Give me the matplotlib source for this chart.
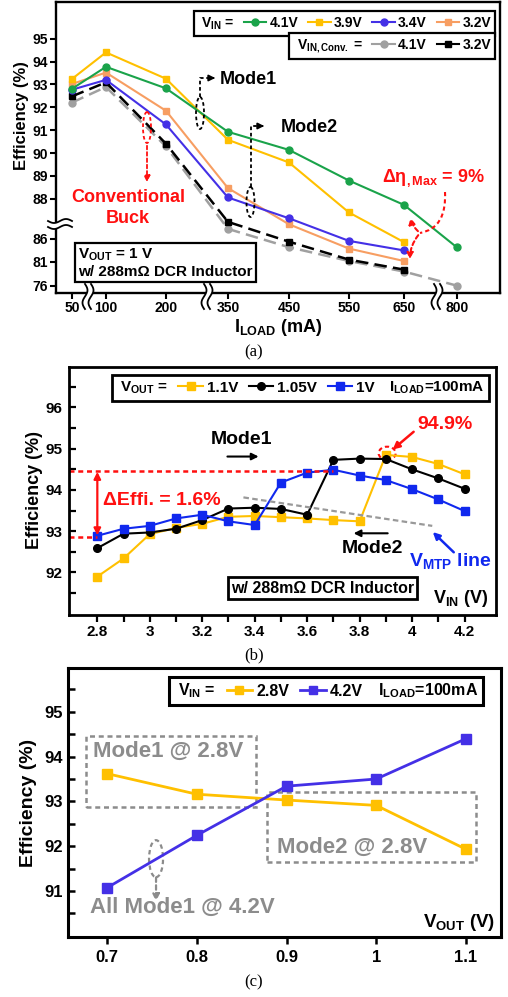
import numpy as np
import matplotlib.pyplot as plt
from matplotlib.lines import Line2D
from matplotlib.patches import Ellipse, Rectangle, Polygon, FancyArrowPatch, PathPatch
from matplotlib.path import Path
from matplotlib.transforms import Affine2D
from matplotlib.ticker import FuncFormatter

plt.rcParams['font.family'] = ['Liberation Sans', 'DejaVu Sans']
plt.rcParams['font.weight'] = 'bold'
plt.rcParams['axes.labelweight'] = 'bold'
plt.rcParams['mathtext.fontset'] = 'custom'
plt.rcParams['mathtext.rm'] = 'Liberation Sans:bold'
plt.rcParams['mathtext.it'] = 'Liberation Sans:bold'
plt.rcParams['mathtext.bf'] = 'Liberation Sans:bold'

# ---- (a) efficiency vs load current, VOUT = 1 V
i_load = [50, 100, 200, 350, 450, 550, 650, 800]
eff_41 = [92.81, 93.77, 92.83, 90.93, 90.14, 88.8, 87.7, 84.15]
eff_39 = [93.24, 94.4, 93.25, 90.58, 89.59, 87.32, 85.3]
eff_34 = [92.77, 93.2, 91.25, 88.06, 87.03, 85.57, 83.5]
eff_32 = [93.02, 93.52, 91.85, 88.47, 86.73, 83.9, 81.2]
conv_41 = [92.21, 92.89, 90.29, 86.5, 84.2, 81.2, 79.0, 76.06]
conv_32 = [92.48, 93.09, 90.41, 86.85, 85.4, 81.5, 79.4]
yticks_a = [76, 81, 86, 88, 89, 90, 91, 92, 93, 94, 95]

# ---- (b) efficiency vs VIN, ILOAD = 100 mA
vin = [2.8, 2.9, 3.0, 3.1, 3.2, 3.3, 3.4, 3.5, 3.6, 3.7, 3.8, 3.9, 4.0, 4.1, 4.2]
eff_v110 = [91.9, 92.34, 92.93, 93.08, 93.18, 93.35, 93.37, 93.34, 93.31, 93.27, 93.24, 94.85, 94.8, 94.63, 94.38]
eff_v105 = [92.59, 92.94, 92.97, 93.06, 93.27, 93.55, 93.57, 93.54, 93.4, 94.73, 94.76, 94.75, 94.5, 94.28, 94.03]
eff_v100 = [92.89, 93.06, 93.13, 93.31, 93.4, 93.24, 93.15, 94.18, 94.42, 94.49, 94.35, 94.24, 94.02, 93.77, 93.49]

# ---- (c) efficiency vs VOUT, ILOAD = 100 mA
vout = [0.7, 0.8, 0.9, 1.0, 1.1]
eff_in28 = [93.62, 93.16, 93.03, 92.91, 91.93]
eff_in42 = [91.07, 92.24, 93.34, 93.5, 94.4]

GREEN = '#1aa34a'
YELLOW = '#ffc000'
PURPLE = '#4430e6'
ORANGE = '#f79e62'
GRAY = '#a0a0a0'
BLUE = '#1028ee'
RED = '#ff1010'
TXTGRAY = '#8c8c8c'

W, H = 508, 997
fig = plt.figure(figsize=(W / 100, H / 100), dpi=100)
# pixel coordinates measured from the top-left corner, used for annotations
T = Affine2D().scale(1 / W, -1 / H).translate(0, 1) + fig.transFigure


def boxed_legend(ax, handles, labels, anchor, fs, lw, blank=()):
    leg = ax.legend(handles, labels, loc='upper right', bbox_to_anchor=anchor,
                    ncol=len(labels), prop={'weight': 'bold', 'size': fs},
                    frameon=True, fancybox=False, framealpha=1, edgecolor='black',
                    handlelength=1.6, handletextpad=0.25, columnspacing=0.7,
                    borderpad=0.3, borderaxespad=0)
    leg.get_frame().set_linewidth(lw)
    for j, col in enumerate(leg._legend_handle_box.get_children()):
        if j in blank:
            for row in col.get_children():
                row.get_children()[0].width = 0
    return leg


def spines(ax, lw):
    for s in ax.spines.values():
        s.set_linewidth(lw)


fmt = FuncFormatter(lambda v, p: f'{round(v, 2):g}')
blank_h = Line2D([], [], linestyle='none')

# ================= (a) =================
ax1 = fig.add_axes([56 / W, 1 - 293 / H, 444 / W, 291 / H])
xa_knots = [0, 50, 100, 200, 350, 450, 550, 650, 800, 1000]
xa_pos = [38, 72, 106, 166, 228, 289, 349, 404, 457, 527]
ya_knots = [60, 76, 81, 86, 88, 95, 100]
ya_pos = [-361, -286, -262, -239, -199, -39, 75.5]
ax1.set_xscale('function', functions=(lambda v: np.interp(v, xa_knots, xa_pos),
                                      lambda p: np.interp(p, xa_pos, xa_knots)))
ax1.set_yscale('function', functions=(lambda v: np.interp(v, ya_knots, ya_pos),
                                      lambda p: np.interp(p, ya_pos, ya_knots)))

ax1.plot(i_load, conv_41, color=GRAY, ls=(0, (5, 2.5)), lw=1.8, marker='o', ms=5)
ax1.plot(i_load[:7], conv_32, color='black', ls=(0, (5, 2.5)), lw=1.8, marker='s', ms=5)
ax1.plot(i_load[:7], eff_32, color=ORANGE, lw=1.5, marker='s', ms=5)
ax1.plot(i_load[:7], eff_34, color=PURPLE, lw=1.5, marker='o', ms=5)
ax1.plot(i_load[:7], eff_39, color=YELLOW, lw=1.5, marker='s', ms=5)
ax1.plot(i_load, eff_41, color=GREEN, lw=1.5, marker='o', ms=5)

ax1.set_xlim(26.5, 923)
ax1.set_ylim(74.5, 96.6)
ax1.set_xticks(i_load)
ax1.set_yticks(yticks_a)
ax1.xaxis.set_major_formatter(fmt)
ax1.yaxis.set_major_formatter(fmt)
ax1.minorticks_off()
ax1.tick_params(direction='out', length=4, width=1.5, labelsize=10, pad=2)
spines(ax1, 1.7)
ax1.set_ylabel('Efficiency (%)', fontsize=12)
ax1.yaxis.label.set_va('center')
ax1.yaxis.set_label_coords(-0.0766, 0.61)
ax1.set_xlabel('I$_{\\rm LOAD}$ (mA)', fontsize=13)
ax1.xaxis.label.set_va('center')
ax1.xaxis.set_label_coords(0.5, -0.117)

h_a = [blank_h,
       Line2D([], [], color=GREEN, marker='o', ms=5, lw=1.5),
       Line2D([], [], color=YELLOW, marker='s', ms=5, lw=1.5),
       Line2D([], [], color=PURPLE, marker='o', ms=5, lw=1.5),
       Line2D([], [], color=ORANGE, marker='s', ms=5, lw=1.5)]
leg1 = boxed_legend(ax1, h_a, ['V$_{\\rm IN}$ =', '4.1V', '3.9V', '3.4V', '3.2V'],
                    (0.989, 0.969), 10, 1.6, blank=(0,))
ax1.add_artist(leg1)
h_c = [blank_h,
       Line2D([], [], color=GRAY, marker='o', ms=5, lw=1.5),
       Line2D([], [], color='black', marker='s', ms=5, lw=1.5)]
boxed_legend(ax1, h_c, ['V$_{\\rm IN,Conv.}$ =', '4.1V', '3.2V'],
             (0.989, 0.893), 10, 1.6, blank=(0,))

# axis breaks
t = np.linspace(0, 1, 40)
for cx in (88, 207, 437):
    ys = 284 + 25 * t
    xl = cx - 3 + 2.5 * np.sin(2 * np.pi * t)
    xr = cx + 3 + 2.5 * np.sin(2 * np.pi * t)
    fig.add_artist(Polygon(np.column_stack([np.r_[xl, xr[::-1]], np.r_[ys, ys[::-1]]]),
                           closed=True, fc='white', ec='none', transform=T))
    fig.add_artist(Line2D(xl, ys, color='black', lw=1.3, transform=T))
    fig.add_artist(Line2D(xr, ys, color='black', lw=1.3, transform=T))
xs = 48 + 24 * t
yt = 221 + 2 * np.sin(2 * np.pi * t)
yb = 227 + 2 * np.sin(2 * np.pi * t)
fig.add_artist(Polygon(np.column_stack([np.r_[xs, xs[::-1]], np.r_[yt, yb[::-1]]]),
                       closed=True, fc='white', ec='none', transform=T))
fig.add_artist(Line2D(xs, yt, color='black', lw=1.3, transform=T))
fig.add_artist(Line2D(xs, yb, color='black', lw=1.3, transform=T))

# mode annotations
fig.add_artist(Ellipse((200, 113), 8, 32, transform=T, fill=False, ec='black', ls=(0, (2, 1.5)), lw=1.3))
fig.add_artist(Line2D([200, 200, 211], [97, 78, 78], color='black', ls=(0, (2, 1.5)), lw=1.3, transform=T))
fig.add_artist(FancyArrowPatch((209, 78), (218, 78), transform=T, arrowstyle='-|>', mutation_scale=9, color='black', lw=1.3))
fig.text(220, 80, 'Mode1', transform=T, fontsize=13, va='center', ha='left')

fig.add_artist(Ellipse((250.5, 202), 8, 30, transform=T, fill=False, ec='black', ls=(0, (2, 1.5)), lw=1.3))
fig.add_artist(Line2D([251, 251, 260], [187, 126, 126], color='black', ls=(0, (2, 1.5)), lw=1.3, transform=T))
fig.add_artist(FancyArrowPatch((258, 126), (267, 126), transform=T, arrowstyle='-|>', mutation_scale=9, color='black', lw=1.3))
fig.text(281, 128, 'Mode2', transform=T, fontsize=13, va='center', ha='left')

fig.add_artist(Ellipse((147, 127.5), 8, 31, transform=T, fill=False, ec=RED, ls=(0, (2, 1.5)), lw=1.3))
fig.add_artist(FancyArrowPatch((147, 143), (147, 185), transform=T, arrowstyle='-|>', mutation_scale=9,
                               color=RED, lw=1.3, ls=(0, (2, 1.5))))
fig.text(128, 208, 'Conventional\nBuck', transform=T, fontsize=13, color=RED, va='center', ha='center',
         linespacing=1.35)

fig.text(434, 178, 'Δη$_{\\rm ,Max}$ = 9%', transform=T, fontsize=13, color=RED, va='center', ha='center')
curve = Path([(445, 192), (447, 228), (420, 233)], [Path.MOVETO, Path.CURVE3, Path.CURVE3])
fig.add_artist(PathPatch(curve, transform=T, fill=False, ec=RED, lw=1.5, ls=(0, (2, 1.5))))
fig.add_artist(FancyArrowPatch((420, 233), (410, 215), transform=T, arrowstyle='-|>', mutation_scale=9,
                               color=RED, lw=1.5, ls=(0, (2, 1.5)), connectionstyle='arc3,rad=-0.2'))
fig.add_artist(FancyArrowPatch((420, 233), (410, 262), transform=T, arrowstyle='-|>', mutation_scale=9,
                               color=RED, lw=1.5, ls=(0, (2, 1.5)), connectionstyle='arc3,rad=0.2'))

fig.text(78, 263, 'V$_{\\rm OUT}$ = 1 V\nw/ 288mΩ DCR Inductor', transform=T, fontsize=11, va='center', ha='left',
         linespacing=1.15, bbox=dict(boxstyle='square,pad=0.2', fc='white', ec='black', lw=1.6))

fig.text(254, 352, '(a)', transform=T, fontsize=12, family='Liberation Serif', weight='normal',
         ha='center', va='center')

# ================= (b) =================
ax2 = fig.add_axes([69 / W, 1 - 615 / H, 427 / W, 248 / H])
ax2.plot(vin, eff_v110, color=YELLOW, lw=1.5, marker='s', ms=6)
ax2.plot(vin, eff_v105, color='black', lw=1.5, marker='o', ms=5.5)
ax2.plot(vin, eff_v100, color=BLUE, lw=1.5, marker='s', ms=6)
ax2.set_xlim(2.692, 4.32)
ax2.set_ylim(90.97, 96.98)
ax2.set_xticks([2.8, 3.0, 3.2, 3.4, 3.6, 3.8, 4.0, 4.2])
ax2.set_xticks([2.9, 3.1, 3.3, 3.5, 3.7, 3.9, 4.1], minor=True)
ax2.set_yticks([92, 93, 94, 95, 96])
ax2.set_yticks([91.5, 92.5, 93.5, 94.5, 95.5, 96.5], minor=True)
ax2.xaxis.set_major_formatter(fmt)
ax2.yaxis.set_major_formatter(fmt)
ax2.tick_params(axis='x', which='both', direction='out', length=5, width=1.6, labelsize=11, pad=2)
ax2.tick_params(axis='y', which='both', direction='in', length=5, width=1.6, labelsize=11, pad=5)
spines(ax2, 2)
ax2.set_ylabel('Efficiency (%)', fontsize=13)
ax2.yaxis.label.set_va('center')
ax2.yaxis.set_label_coords(-0.08, 0.504)

h_b = [blank_h,
       Line2D([], [], color=YELLOW, marker='s', ms=6, lw=1.5),
       Line2D([], [], color='black', marker='o', ms=5.5, lw=1.5),
       Line2D([], [], color=BLUE, marker='s', ms=6, lw=1.5),
       blank_h]
boxed_legend(ax2, h_b, ['V$_{\\rm OUT}$ =', '1.1V', '1.05V', '1V', 'I$_{\\rm LOAD}$=100mA'],
             (0.984, 0.968), 11, 2, blank=(0, 4))

ax2.hlines(94.47, 2.692, 3.7, color=RED, lw=1.8, ls=(0, (2, 1.5)))
ax2.hlines(92.87, 2.692, 2.8, color=RED, lw=1.8, ls=(0, (2, 1.5)))
ax2.annotate('', xy=(2.8, 92.9), xytext=(2.8, 94.44),
             arrowprops=dict(arrowstyle='<|-|>', color=RED, lw=1.6, mutation_scale=10, shrinkA=0, shrinkB=0))
ax2.text(2.82, 93.75, 'ΔEffi. = 1.6%', color=RED, fontsize=14, va='center', ha='left')
ax2.text(3.35, 95.22, 'Mode1', fontsize=14, va='center', ha='center')
ax2.annotate('', xy=(3.415, 94.81), xytext=(3.296, 94.81),
             arrowprops=dict(arrowstyle='-|>', color='black', lw=1.5, mutation_scale=10, shrinkA=0, shrinkB=0))
ax2.text(3.85, 92.59, 'Mode2', fontsize=14, va='center', ha='center')
ax2.annotate('', xy=(3.777, 92.95), xytext=(3.907, 92.95),
             arrowprops=dict(arrowstyle='-|>', color='black', lw=1.5, mutation_scale=10, shrinkA=0, shrinkB=0))
ax2.plot([3.357, 4.077], [93.82, 93.13], color='#999999', lw=1.6, ls=(0, (2.5, 1.5)))
ax2.text(3.987, 92.29, 'V$_{\\rm MTP}$ line', color=BLUE, fontsize=14, va='center', ha='left')
ax2.annotate('', xy=(4.079, 92.98), xytext=(4.159, 92.49),
             arrowprops=dict(arrowstyle='-|>', color=BLUE, lw=1.8, mutation_scale=10, shrinkA=0, shrinkB=0))
ax2.add_patch(Ellipse((3.905, 94.89), 0.065, 0.317, fill=False, ec=RED, lw=1.5, ls=(0, (2, 1.5))))
ax2.text(4.124, 95.59, '94.9%', color=RED, fontsize=14, va='center', ha='center')
ax2.annotate('', xy=(3.926, 94.98), xytext=(4.006, 95.41),
             arrowprops=dict(arrowstyle='-|>', color=RED, lw=1.8, mutation_scale=10, shrinkA=0, shrinkB=0))
ax2.text(3.659, 91.62, 'w/ 288mΩ DCR Inductor', fontsize=11.5, va='center', ha='center',
         bbox=dict(boxstyle='square,pad=0.2', fc='white', ec='black', lw=2))
ax2.text(4.292, 91.37, 'V$_{\\rm IN}$ (V)', fontsize=13, va='center', ha='right')

fig.text(254, 655, '(b)', transform=T, fontsize=12, family='Liberation Serif', weight='normal',
         ha='center', va='center')

# ================= (c) =================
ax3 = fig.add_axes([68 / W, 1 - 937 / H, 433 / W, 269 / H])
ax3.plot(vout, eff_in28, color=YELLOW, lw=2, marker='s', ms=7)
ax3.plot(vout, eff_in42, color=PURPLE, lw=2, marker='s', ms=7)
ax3.set_xlim(0.6565, 1.139)
ax3.set_ylim(89.97, 95.98)
ax3.set_xticks(vout)
ax3.set_yticks([91, 92, 93, 94, 95])
ax3.set_yticks([90.5, 91.5, 92.5, 93.5, 94.5, 95.5], minor=True)
ax3.xaxis.set_major_formatter(fmt)
ax3.yaxis.set_major_formatter(fmt)
ax3.tick_params(axis='x', which='both', direction='out', length=5, width=1.8, labelsize=12, pad=4)
ax3.tick_params(axis='y', which='both', direction='in', length=5, width=1.8, labelsize=12, pad=4)
spines(ax3, 2.2)
ax3.set_ylabel('Efficiency (%)', fontsize=14)
ax3.yaxis.label.set_va('center')
ax3.yaxis.set_label_coords(-0.092, 0.498)

h_v = [blank_h,
       Line2D([], [], color=YELLOW, marker='s', ms=6, lw=2),
       Line2D([], [], color=PURPLE, marker='s', ms=6, lw=2),
       blank_h]
boxed_legend(ax3, h_v, ['V$_{\\rm IN}$ =', '2.8V', '4.2V', 'I$_{\\rm LOAD}$=100mA'],
             (0.958, 0.967), 11.5, 2.2, blank=(0, 3))

ax3.add_patch(Rectangle((0.6766, 92.87), 0.866 - 0.6766, 94.45 - 92.87, fill=False,
                        ec=TXTGRAY, lw=1.8, ls=(0, (2, 1.5))))
ax3.text(0.684, 94.12, 'Mode1 @ 2.8V', color=TXTGRAY, fontsize=16, va='center', ha='left')
ax3.add_patch(Rectangle((0.878, 91.64), 1.111 - 0.878, 93.22 - 91.64, fill=False,
                        ec=TXTGRAY, lw=1.8, ls=(0, (2, 1.5))))
ax3.text(0.8895, 91.97, 'Mode2 @ 2.8V', color=TXTGRAY, fontsize=16, va='center', ha='left')
ax3.add_patch(Ellipse((0.7546, 91.72), 0.0156, 0.826, fill=False, ec=TXTGRAY, lw=1.6, ls=(0, (2, 1.5))))
ax3.annotate('', xy=(0.7546, 90.77), xytext=(0.7546, 91.30),
             arrowprops=dict(arrowstyle='-|>', color=TXTGRAY, lw=1.6, ls=(0, (2, 1.5)),
                             mutation_scale=10, shrinkA=0, shrinkB=0))
ax3.text(0.681, 90.63, 'All Mode1 @ 4.2V', color=TXTGRAY, fontsize=16, va='center', ha='left')
ax3.text(1.132, 90.3, 'V$_{\\rm OUT}$ (V)', fontsize=13.5, va='center', ha='right')

fig.text(254, 982, '(c)', transform=T, fontsize=12, family='Liberation Serif', weight='normal',
         ha='center', va='center')

fig.savefig('out.png', dpi=100)
